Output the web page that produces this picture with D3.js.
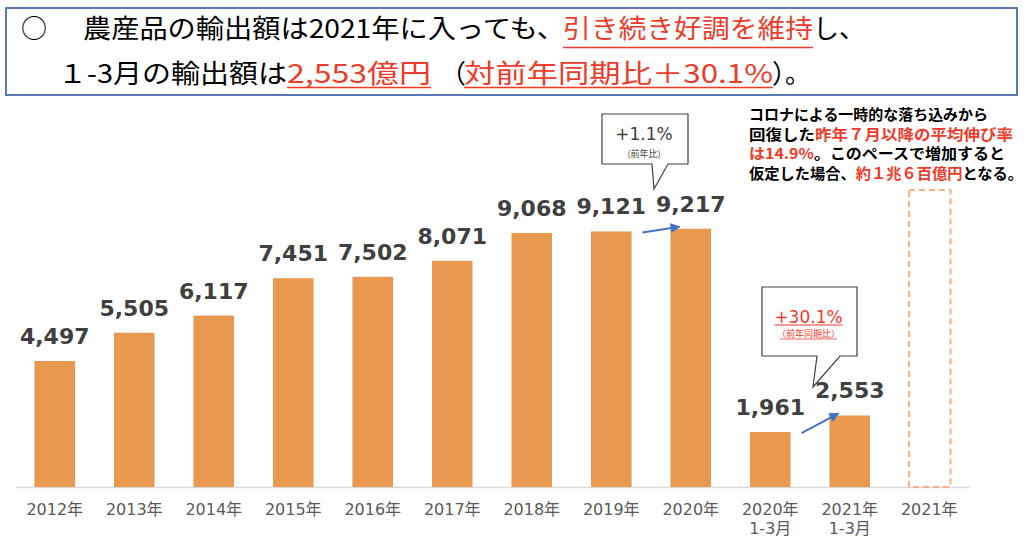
<!DOCTYPE html>
<html><head><meta charset="utf-8">
<script src="https://cdn.jsdelivr.net/npm/d3@7"></script>
<style>
html,body{margin:0;padding:0;background:#fff;}
svg{display:block;}
</style></head>
<body>
<svg id="chart" width="1024" height="537"></svg>
<script>
// ---- data ----
const categories = ["2012年","2013年","2014年","2015年","2016年","2017年","2018年","2019年","2020年","2020年\n1-3月","2021年\n1-3月","2021年"];
const values = [4497, 5505, 6117, 7451, 7502, 8071, 9068, 9121, 9217, 1961, 2553, null];
const projectedCategory = "2021年";
const projectedValue = 10600;
const yoyAnnual = {label: "+1.1%", note: "(前年比)", from: "2019年", to: "2020年"};
const yoyQuarter = {label: "+30.1%", note: "（前年同期比）", from: "2020年\n1-3月", to: "2021年\n1-3月"};
const titleLine1 = [["○", false], ["農産品の輸出額は2021年に入っても、", false], ["引き続き好調を維持", true], ["し、", false]];
const titleLine2 = [["１-3月の輸出額は", false], ["2,553億円", true], ["（", false], ["対前年同期比＋30.1%", true], ["）。", false]];
const noteLines = [
  [["コロナによる一時的な落ち込みから", false]],
  [["回復した", false], ["昨年７月以降の平均伸び率", true]],
  [["は14.9%", true], ["。このペースで増加すると", false]],
  [["仮定した場合、", false], ["約１兆６百億円", true], ["となる。", false]]
];

const svg = d3.select("#chart");
const RED = "#EE3B2B", ORANGE = "#E9994F", DARK = "#404040", BLUE = "#4472C4";
const CJK = "'Noto Sans CJK JP', sans-serif";
const NUM = "'DejaVu Sans', 'Noto Sans CJK JP', sans-serif";

// ---- title box ----
svg.append("rect").attr("x", 6).attr("y", 8).attr("width", 1011).attr("height", 87)
  .attr("fill", "#fff").attr("stroke", "#5B79B3").attr("stroke-width", 2);

function titleLine(parts, xs, lens, baseline, ulY) {
  parts.forEach((p, i) => {
    const t = svg.append("text").attr("x", xs[i]).attr("y", baseline)
      .attr("font-family", CJK).attr("font-size", 26)
      .attr("fill", p[1] ? RED : "#000").text(p[0]);
    if (lens[i]) t.attr("textLength", lens[i]).attr("lengthAdjust", "spacingAndGlyphs");
    if (p[1]) {
      svg.append("line").attr("x1", xs[i]).attr("x2", xs[i] + lens[i])
        .attr("y1", ulY).attr("y2", ulY).attr("stroke", RED).attr("stroke-width", 1.5);
    }
  });
}
titleLine(titleLine1, [21, 83, 563, 813], [0, 482, 250, 0], 38, 47.5);
titleLine(titleLine2, [58, 287, 440, 464, 772], [229, 144, 0, 309, 0], 83, 87.5);

// ---- scales ----
const x = d3.scaleBand().domain(categories).range([15, 969]).paddingInner(0.49).paddingOuter(0.245);
const y = d3.scaleLinear().domain([0, 10000]).range([487, 206.8]);
const bw = x.bandwidth();

// axis
const axis = d3.axisBottom(x).tickSize(0).tickPadding(0);
const gAxis = svg.append("g").attr("transform", "translate(0,487)").call(axis);
gAxis.select(".domain").attr("stroke", "#D9D9D9").attr("stroke-width", 1.5);
gAxis.selectAll(".tick text").each(function(d) {
  const t = d3.select(this);
  t.text(null).attr("font-family", NUM).attr("font-size", 16).attr("fill", "#595959")
    .attr("dy", null).attr("y", 28);
  d.split("\n").forEach((s, i) => {
    t.append("tspan").attr("x", 0).attr("y", 28 + i * 19).text(s);
  });
});

// bars
const data = categories.map((c, i) => ({c, v: values[i]})).filter(d => d.v != null);
svg.append("g").selectAll("rect").data(data).join("rect")
  .attr("x", d => x(d.c)).attr("width", bw)
  .attr("y", d => y(d.v)).attr("height", d => y(0) - y(d.v))
  .attr("fill", ORANGE);

// projected dashed bar
svg.append("rect").attr("x", x(projectedCategory)).attr("width", bw + 1)
  .attr("y", y(projectedValue)).attr("height", y(0) - y(projectedValue))
  .attr("fill", "none").attr("stroke", "#F4B183").attr("stroke-width", 2)
  .attr("stroke-dasharray", "6,4");

// value labels
svg.append("g").selectAll("text").data(data).join("text")
  .attr("x", d => x(d.c) + bw / 2).attr("y", d => y(d.v) - 17)
  .attr("text-anchor", "middle").attr("font-family", NUM).attr("font-size", 22)
  .attr("font-weight", "bold").attr("fill", DARK)
  .text(d => d3.format(",")(d.v));

// arrows
const defs = svg.append("defs");
defs.append("marker").attr("id", "ah").attr("viewBox", "0 0 10 10").attr("refX", 9).attr("refY", 5)
  .attr("markerWidth", 5).attr("markerHeight", 5).attr("orient", "auto")
  .append("path").attr("d", "M0,0L10,5L0,10z").attr("fill", BLUE);
function arrow(a, b) {
  const va = values[categories.indexOf(a)], vb = values[categories.indexOf(b)];
  svg.append("line")
    .attr("x1", x(a) + bw + 11).attr("y1", y(va) + 1)
    .attr("x2", x(b) + 9).attr("y2", y(vb) - 2)
    .attr("stroke", BLUE).attr("stroke-width", 2).attr("marker-end", "url(#ah)");
}
arrow(yoyAnnual.from, yoyAnnual.to);
arrow(yoyQuarter.from, yoyQuarter.to);

// callouts
function callout(bx, by, bwid, bh, t1x, t2x, tipX, tipY, cfg, color, s1, s2) {
  const b = by + bh;
  const d = `M${bx},${by}H${bx + bwid}V${b}H${t2x}L${tipX},${tipY}L${t1x},${b}H${bx}Z`;
  svg.append("path").attr("d", d).attr("fill", "#fff").attr("stroke", "#404040").attr("stroke-width", 1.2);
  const cx = bx + bwid / 2 - 1;
  const a = svg.append("text").attr("x", cx).attr("y", by + s1).attr("text-anchor", "middle")
    .attr("font-family", NUM).attr("font-size", 17).attr("fill", color).text(cfg.label);
  const n = svg.append("text").attr("x", cx).attr("y", by + s2).attr("text-anchor", "middle")
    .attr("font-family", CJK).attr("font-size", 9).attr("fill", color).text(cfg.note);
  return [a, n, cx];
}
callout(602, 114, 86, 50, 652, 668, 654, 189, yoyAnnual, DARK, 26, 43);
const [qa, qn, qcx] = callout(762, 287, 95, 69, 817, 840, 813, 387, yoyQuarter, RED, 36, 50);
const wa = qa.node().getComputedTextLength(), wn = qn.node().getComputedTextLength();
svg.append("line").attr("x1", qcx - wa / 2).attr("x2", qcx + wa / 2).attr("y1", 325).attr("y2", 325)
  .attr("stroke", RED).attr("stroke-width", 1);
svg.append("line").attr("x1", qcx - wn / 2 + 3).attr("x2", qcx + wn / 2 - 3).attr("y1", 339).attr("y2", 339)
  .attr("stroke", RED).attr("stroke-width", 0.8);

// note text
const noteLens = [239, 264, 256, 274];
noteLines.forEach((line, i) => {
  const t = svg.append("text").attr("x", 749).attr("y", 120 + i * 19.5)
    .attr("font-family", CJK).attr("font-size", 15).attr("font-weight", "bold")
    .attr("textLength", noteLens[i]).attr("lengthAdjust", "spacingAndGlyphs");
  line.forEach(p => t.append("tspan").attr("fill", p[1] ? RED : "#000").text(p[0]));
});
</script>
</body></html>
